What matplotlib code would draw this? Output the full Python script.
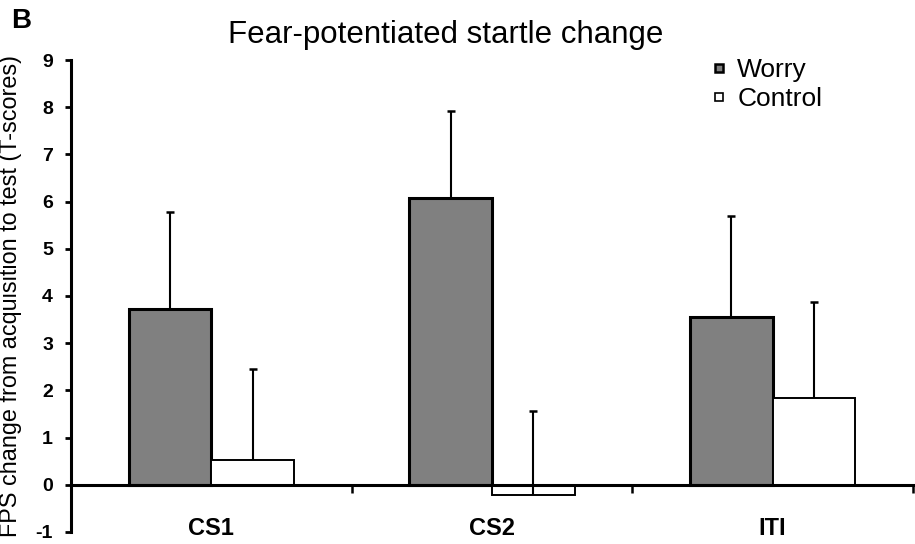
import matplotlib
matplotlib.use('Agg')
import numpy as np
import matplotlib.pyplot as plt
from matplotlib.lines import Line2D

plt.rcParams['font.family'] = ['Liberation Sans', 'DejaVu Sans']

# data
categories = ['CS1', 'CS2', 'ITI']
worryMeans = [3.72, 6.07, 3.55]
worryErrors = [2.05, 1.86, 2.15]
controlMeans = [0.53, -0.22, 1.83]
controlErrors = [1.92, 1.79, 2.05]
yTicks = list(range(-1, 10))

fig = plt.figure(figsize=(9.15, 5.44), dpi=100)
ax = fig.add_axes([0.0776, 0.0221, 0.9202, 0.8676])

x = np.arange(len(categories))
barWidth = 0.295

ax.bar(x - barWidth / 2, worryMeans, barWidth, color='#808080',
       edgecolor='black', linewidth=2.2, zorder=3)
ax.bar(x + barWidth / 2, controlMeans, barWidth, color='white',
       edgecolor='black', linewidth=1.4, zorder=3)

# upper error bars only, no cap at the bar end
for offset, means, errs, z in [(-barWidth / 2, worryMeans, worryErrors, 2),
                               (barWidth / 2, controlMeans, controlErrors, 4)]:
    eb = ax.errorbar(x + offset, means, yerr=[np.zeros(len(x)), errs],
                     fmt='none', ecolor='black', elinewidth=1.5,
                     capsize=2.6, capthick=1.8, zorder=z)
    eb[1][0].set_visible(False)

ax.set_xlim(-0.5, 2.5)
ax.set_ylim(-1, 9)

for side in ['top', 'right']:
    ax.spines[side].set_visible(False)
ax.spines['left'].set_linewidth(2.2)
ax.spines['bottom'].set_position(('data', 0))
ax.spines['bottom'].set_linewidth(2.2)
ax.spines['bottom'].set_zorder(5)

ax.set_yticks(yTicks)
ax.set_yticklabels([str(t) for t in yTicks], fontsize=14, fontweight='bold')
ax.tick_params(axis='y', direction='out', length=4, width=2, pad=9)

ax.set_xticks(x)
ax.set_xticklabels(categories, fontsize=17, fontweight='bold')
ax.tick_params(axis='x', which='major', length=0, pad=23.5)
ax.set_xticks([0.5, 1.5, 2.5], minor=True)
ax.tick_params(axis='x', which='minor', direction='out', length=6, width=1.8)

ax.set_ylabel('FPS change from acquisition to test (T-scores)', fontsize=16.8)
ax.yaxis.set_label_coords(-0.058, 0.5)

fig.text(0.487, 0.936, 'Fear-potentiated startle change', fontsize=22.5,
         ha='center', va='center')
fig.text(0.012, 0.962, 'B', fontsize=20, fontweight='bold',
         ha='left', va='center')

handles = [
    Line2D([], [], linestyle='none', marker='s', markersize=6,
           markerfacecolor='#808080', markeredgecolor='black',
           markeredgewidth=1.8),
    Line2D([], [], linestyle='none', marker='s', markersize=6,
           markerfacecolor='white', markeredgecolor='black',
           markeredgewidth=1.2),
]
ax.legend(handles, ['Worry', 'Control'], loc='upper left',
          bbox_to_anchor=(0.764, 0.918), bbox_transform=fig.transFigure,
          frameon=False, fontsize=19, handlelength=0.5, handletextpad=0.45,
          labelspacing=0.2, borderpad=0)

fig.savefig('out.png', dpi=100)
